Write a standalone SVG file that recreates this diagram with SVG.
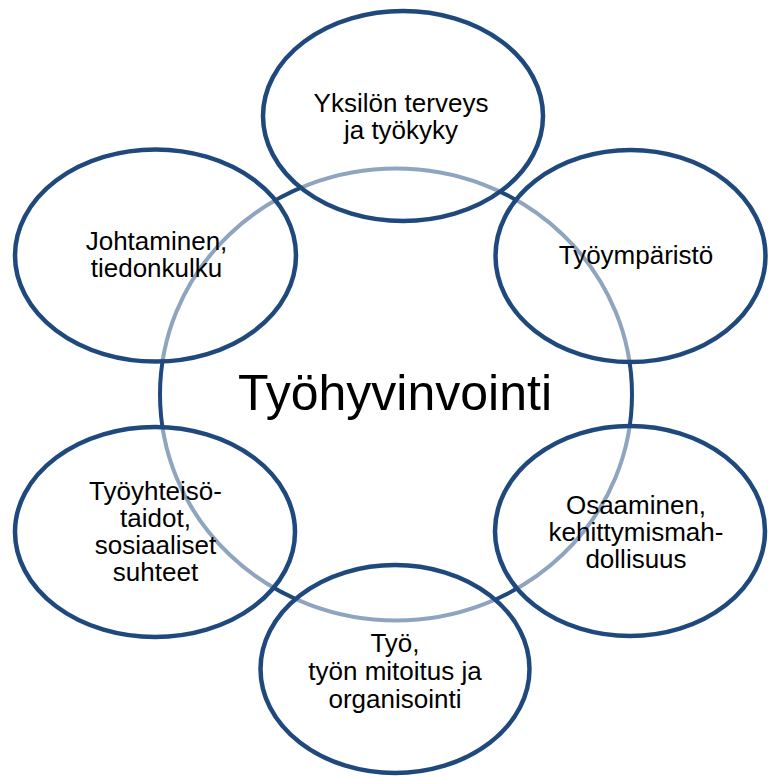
<svg xmlns="http://www.w3.org/2000/svg" width="768" height="778" viewBox="0 0 768 778">
<style>
  .ring{fill:none;stroke:#1F497D;stroke-width:4.5}
  .hub{fill:none;stroke:#1F497D;stroke-width:4}
  .lbl{font-family:"Liberation Sans",Arial,sans-serif;font-size:26px;fill:#000;text-anchor:middle}
  .title{font-family:"Liberation Sans",Arial,sans-serif;font-size:50px;fill:#000;text-anchor:middle}
</style>
<rect width="768" height="778" fill="#fff"/>
<g id="hub-ring">
  <ellipse class="hub" cx="396" cy="394.5" rx="236" ry="226"/>
</g>
<g id="veil">
  <path fill="#fff" fill-opacity="0.5" d="M263,116 a140,105 0 1,0 280,0 a140,105 0 1,0 -280,0 Z M495.5,256 a135,106 0 1,0 270,0 a135,106 0 1,0 -270,0 Z M495,531 a135,105 0 1,0 270,0 a135,105 0 1,0 -270,0 Z M260.5,669 a134.5,104 0 1,0 269,0 a134.5,104 0 1,0 -269,0 Z M15,532 a140,105 0 1,0 280,0 a140,105 0 1,0 -280,0 Z M15,255.5 a140.5,106 0 1,0 281,0 a140.5,106 0 1,0 -281,0 Z"/>
</g>
<g id="hub">
  <text class="title" x="395" y="410">Työhyvinvointi</text>
</g>
<g id="node-terveys">
  <ellipse class="ring" cx="403" cy="116" rx="140" ry="105"/>
  <text class="lbl" x="401" y="111.5">Yksilön terveys</text>
  <text class="lbl" x="401" y="138.5">ja työkyky</text>
</g>
<g id="node-tyoymparisto">
  <ellipse class="ring" cx="630.5" cy="256" rx="135" ry="106"/>
  <text class="lbl" x="636" y="263.5">Työympäristö</text>
</g>
<g id="node-osaaminen">
  <ellipse class="ring" cx="630" cy="531" rx="135" ry="105"/>
  <text class="lbl" x="636" y="513.5">Osaaminen,</text>
  <text class="lbl" x="636" y="540.5">kehittymismah-</text>
  <text class="lbl" x="636" y="567.5">dollisuus</text>
</g>
<g id="node-tyo">
  <ellipse class="ring" cx="395" cy="669" rx="134.5" ry="104"/>
  <text class="lbl" x="395" y="651.5">Työ,</text>
  <text class="lbl" x="395" y="679.5">työn mitoitus ja</text>
  <text class="lbl" x="395" y="707.5">organisointi</text>
</g>
<g id="node-tyoyhteiso">
  <ellipse class="ring" cx="155" cy="532" rx="140" ry="105"/>
  <text class="lbl" x="155.5" y="500">Työyhteisö-</text>
  <text class="lbl" x="155.5" y="526.5">taidot,</text>
  <text class="lbl" x="155.5" y="553.5">sosiaaliset</text>
  <text class="lbl" x="155.5" y="581">suhteet</text>
</g>
<g id="node-johtaminen">
  <ellipse class="ring" cx="155.5" cy="255.5" rx="140.5" ry="106"/>
  <text class="lbl" x="156.5" y="250">Johtaminen,</text>
  <text class="lbl" x="156.5" y="276.5">tiedonkulku</text>
</g>
<g id="connectors"/>
</svg>
